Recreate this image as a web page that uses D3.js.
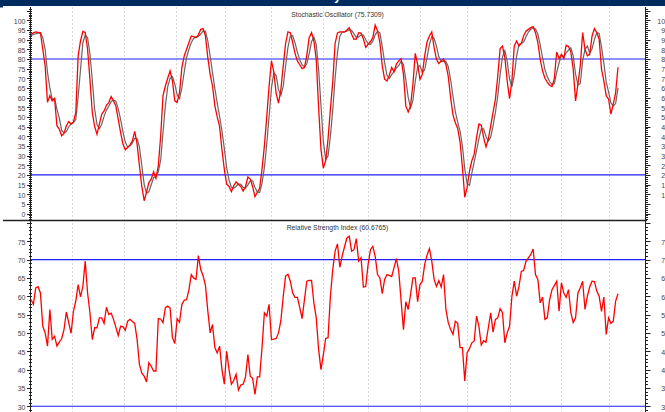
<!DOCTYPE html>
<html>
<head>
<meta charset="utf-8">
<script src="https://cdn.jsdelivr.net/npm/d3@7"></script>
<style>
  body { margin: 0; background: #fff; }
  svg { display: block; }
  text { font-family: "Liberation Sans", Arial, sans-serif; }
</style>
</head>
<body>
<svg id="chart" width="665" height="412"></svg>
<script>

// Stochastic %K, one value per trading day
var stochK = [92.8,93.5,94,93.8,93.6,85,76.4,57.6,61,58.3,
              59.5,45.4,43.7,40.2,41.5,45.4,47.6,46.3,47.4,52.3,
              81.6,89.3,94.2,93.7,85,69.5,52.3,45,41,46.3,
              51.4,53.1,56,57.4,60.5,58.3,55.6,48.8,42,36,
              33,34.2,35.5,37.6,42.5,36,24.7,14,6.6,11,
              16,17.8,21.6,18.2,24.7,40,61,66,70,73.8,
              68.6,58.3,57.5,62.6,75.6,81.6,85,88.5,91.9,91.5,
              91,92.5,95.3,95.7,91.9,80.7,72,66,55.7,50,
              45,33,23,15.2,14,11.3,14.4,16.4,15,14,
              11.6,14,18.9,17.8,14,8.7,11,13,23,35,
              50,66,79,73.3,62,57.1,64.3,76.4,88,94,
              93.6,88.5,82.9,79,77,75,75.6,82,91,93.6,
              89.3,79.8,55,33.3,23.5,27.3,38.5,54,68,88,
              93.5,94,94,94,95,96.2,92.8,90.2,90.3,93.6,
              93.4,90.3,86,87.6,89,91,97.5,94.5,88.5,76.4,
              69.5,68.6,71.6,75.6,73.3,77.3,79,80.2,72,55.7,
              52.6,55.7,66.9,82.9,77.3,69.5,72.1,81.6,88.8,91.9,
              94,85.9,79.8,77.6,79,80,77,71,60,51,
              47,44,37,24,8.4,13.5,22,27.3,30.7,39.4,
              46.3,45.7,39.4,34.5,38.5,45.4,52.3,59.2,71.2,85.4,
              86.7,80.7,68.6,59.5,68.6,86.7,89.3,86.7,88.1,92,
              94.5,95.3,96.2,96.7,93.6,88.5,79.8,73.8,70,68,
              66.4,65.7,69.9,83.6,80.2,82.4,80.2,87.1,86.4,83.6,
              74.7,58.3,66.9,76.4,93.6,85,81.6,82.4,91.9,95.7,
              93.6,90.2,74.7,68.6,61,59.2,51.4,56.6,62.6,75.73];

// Stochastic %D (grey signal line)
var stochD = [92,92.8,93,93.4,93.5,91,85,73,65,59,
              59.6,54,49.5,43,41.8,42.4,44.8,46.4,47.1,48.7,
              60.4,74.4,88.4,92.4,91,82.7,69,54,46,44,
              46.2,50.3,53.5,55.5,58,58.7,58.1,54.2,48.8,42.3,
              37,34.4,35,36.4,39,38.7,34.4,24.9,15.1,10.5,
              11.2,14.9,18.5,19.2,21.5,27.6,41.9,55.7,65.7,69.9,
              70.8,66.9,61.5,59.5,65.2,73.3,80.7,85,88.5,90.6,
              91.5,91.7,92.9,94.5,94.3,89.4,81.5,72.9,64.6,57.2,
              50.2,42.7,33.7,23.7,17.4,13.5,13.2,14,15.3,15.1,
              13.5,13.2,14.8,16.9,16.9,13.5,11.2,10.9,15.7,23.7,
              36,50.3,65,72.8,71.4,64.1,61.1,65.9,76.2,86.1,
              91.9,92,88.3,83.5,79.6,77,75.9,77.5,82.9,88.9,
              91.3,87.6,74.7,56,37.3,28,29.8,39.9,53.5,70,
              83.2,91.8,93.8,94,94.3,95.1,94.7,93.1,91.1,91.4,
              92.4,92.4,89.9,88,87.5,89.2,92.5,94.3,93.5,86.5,
              78.1,71.5,69.9,71.9,73.5,75.4,76.5,78.8,77.1,69.3,
              60.1,54.7,58.4,68.5,75.7,76.6,73,74.4,80.8,87.4,
              91.6,90.6,86.6,81.1,78.8,78.9,78.7,76,69.3,60.7,
              52.7,47.3,42.7,35,23.1,15.3,14.6,20.9,26.7,32.5,
              38.8,43.8,43.8,39.9,37.5,39.5,45.4,52.3,60.9,71.9,
              81.1,84.3,78.7,69.6,65.6,71.6,81.5,87.6,88,88.9,
              91.5,93.9,95.3,96.1,95.5,92.9,87.3,80.7,74.5,70.8,
              68.3,66.7,67.3,73.1,77.9,82.1,80.9,83.2,84.6,85.7,
              81.6,72.2,66.6,67.2,79,85,86.7,83.1,85.3,90,
              93.7,93.2,86.2,77.8,68.1,62.9,57.2,55.7,56.9,65];

// Relative Strength Index
var rsi = [59.1,57.8,62.3,62.6,60.9,51.8,50,46.4,56.4,48.2,
           49.1,46.4,47.5,48.4,50.9,55.7,52.8,49.9,55.9,58.7,
           63.2,59.8,62.7,69.6,60.9,55.5,48.2,51.4,51.4,54.1,
           54.1,52.6,57,55,55.4,53.7,51.5,49.3,51.8,51.7,
           50.7,53.2,53.7,53.1,52.6,48.2,41.4,39,38.2,36.6,
           41.9,40.9,39.6,39.6,53.9,53.8,52.8,56.9,57.3,56.8,
           48.7,47.1,53.9,52.9,57.8,58.9,59.1,61.8,65.9,65,
           64.6,71.1,67.3,65.6,63,56,50,52.3,46,44.5,
           46.4,40,36,45,40,36,37,38.7,34.4,35.8,
           36,38,44.1,38.2,37.6,33.2,38,38,46,55.5,
           54.6,57.8,48.2,48.3,48.5,50,53.4,60,65.5,66,
           64.1,60.9,59.7,59.7,56.9,53.9,59.1,64.1,64.3,64.3,
           58.2,54.1,45.5,40,44,48.5,48.7,60,67.3,72.3,
           74.3,67.9,71,73.5,75.9,76.4,72.3,72.7,75.7,69.6,
           70.5,62.5,62.7,68.7,72.7,73.6,70.9,65.9,65,60.7,
           64.6,65.9,65.7,65.4,67.8,70.3,66.8,58.7,50.9,58.5,
           56.4,60.5,65,65,58.5,63.2,64.1,68.7,71.2,73,
           69.6,64.6,62.7,64.3,62.5,65.9,56.4,52.8,50.9,49.6,
           53.2,52.6,46,46,36.9,44.6,45.7,47.3,47.8,54.6,
           51.8,46.7,47.9,47.5,51.4,55.5,50.2,53.7,54.1,56.6,
           55.5,47.3,50,51.8,60,64.1,60,62.7,66.8,67.1,
           69.6,70.5,71.4,72.9,65.9,64.6,58.2,59.8,53.7,54.1,
           59.1,61.8,62.9,64.1,55.9,63.7,60.9,59.7,61.8,55.5,
           52.8,54.1,60.9,62.3,64.1,56.4,60,62.6,64.1,64,
           61.4,60,55.9,59.8,49.6,54.1,52.6,53.2,58.7,60.68];

// Day index where each new month starts (vertical grid)
var monthStarts = [17.5, 39.5, 61.5, 82.5, 102, 124, 143, 165, 185, 203, 225, 245];

// Axis labels and signal levels
var stochTicks = [0, 5, 10, 15, 20, 25, 30, 35, 40, 45, 50,
                  55, 60, 65, 70, 75, 80, 85, 90, 95, 100];
var rsiTicks = [30, 35, 40, 45, 50, 55, 60, 65, 70, 75];
var stochLevels = [20, 80];
var rsiLevels = [30, 70];
var stochTitle = 'Stochastic Oscillator (75.7309)';
var rsiTitle = 'Relative Strength Index (60.6765)';
var bannerText = 'Daily';

// Layout
var axisLeft = 30.5,
    axisRight = 645.5,
    splitY = 220.5,
    topY = 7;

var svg = d3.select('#chart');

var x = d3.scaleLinear()
    .domain([0, stochK.length - 1])
    .range([31, 618]);

var yStoch = d3.scaleLinear()
    .domain([0, 100])
    .range([213.5, 20.3]);

var yRsi = d3.scaleLinear()
    .domain([30, 70])
    .range([406.2, 259.6]);

// Banner at the top (its title sits above the visible area)
svg.append('rect')
   .attr('x', 0).attr('y', 0)
   .attr('width', 665).attr('height', 6)
   .attr('fill', '#002b5e');
svg.append('rect')
   .attr('x', 0).attr('y', 0)
   .attr('width', 3).attr('height', 7.5)
   .attr('fill', '#002b5e');
svg.append('text')
   .attr('x', 341).attr('y', -0.5)
   .attr('text-anchor', 'end')
   .attr('fill', '#fff')
   .style('font-size', '12px')
   .style('font-weight', 'bold')
   .text(bannerText);

// Month grid
svg.append('g')
   .selectAll('line')
   .data(monthStarts)
   .enter()
   .append('line')
   .attr('x1', function(d) { return Math.round(x(d)) + 0.5; })
   .attr('x2', function(d) { return Math.round(x(d)) + 0.5; })
   .attr('y1', topY)
   .attr('y2', 412)
   .attr('stroke', '#d9d9d9')
   .attr('stroke-dasharray', '2,2');

// Draw one panel: levels, axes, title
function drawPanel(y, ticks, levels, title, titleY, lo, hi, y0, y1) {

  var g = svg.append('g');

  // Signal levels
  g.selectAll('line.level')
   .data(levels)
   .enter()
   .append('line')
   .attr('class', 'level')
   .attr('x1', axisLeft).attr('x2', axisRight)
   .attr('y1', function(d) { return y(d); })
   .attr('y2', function(d) { return y(d); })
   .attr('stroke', '#1f1fff')
   .attr('stroke-width', 1.1);

  // Axis lines
  [axisLeft, axisRight].forEach(function(ax) {
    g.append('line')
     .attr('x1', ax).attr('x2', ax)
     .attr('y1', y0).attr('y2', y1)
     .attr('stroke', '#222');
  });

  // Minor ticks every unit, major every 5
  var minor = d3.range(Math.ceil(lo), Math.floor(hi) + 1);
  minor.forEach(function(v) {
    var yy = Math.round(y(v)) + 0.5;
    var major = v % 5 == 0;
    g.append('line')
     .attr('x1', axisLeft - (major ? 3.5 : 1.5)).attr('x2', axisLeft + 1.5)
     .attr('y1', yy).attr('y2', yy)
     .attr('stroke', '#222');
    g.append('line')
     .attr('x1', axisRight).attr('x2', axisRight + (major ? 5 : 2.5))
     .attr('y1', yy).attr('y2', yy)
     .attr('stroke', '#222');
  });

  // Tick labels both sides (right ones run past the window edge)
  g.selectAll('text.left')
   .data(ticks)
   .enter()
   .append('text')
   .attr('class', 'left')
   .attr('x', 25.5)
   .attr('y', function(d) { return y(d); })
   .attr('dy', '0.5em')
   .attr('text-anchor', 'end')
   .attr('fill', '#444')
   .style('font-size', '7px')
   .text(function(d) { return d; });
  g.selectAll('text.right')
   .data(ticks)
   .enter()
   .append('text')
   .attr('class', 'right')
   .attr('x', 669)
   .attr('y', function(d) { return y(d); })
   .attr('dy', '0.5em')
   .attr('text-anchor', 'end')
   .attr('fill', '#444')
   .style('font-size', '7px')
   .text(function(d) { return d; });

  // Panel title
  g.append('text')
   .attr('x', 337.5)
   .attr('y', titleY)
   .attr('text-anchor', 'middle')
   .attr('fill', '#333')
   .style('font-size', '6.8px')
   .text(title);
}

drawPanel(yStoch, stochTicks, stochLevels, stochTitle, 16.5,
          yStoch.invert(splitY), yStoch.invert(topY), topY, splitY);
drawPanel(yRsi, rsiTicks, rsiLevels, rsiTitle, 229.5,
          yRsi.invert(412), yRsi.invert(splitY), splitY, 412);

// Separator between panels
svg.append('line')
   .attr('x1', 3).attr('x2', 647)
   .attr('y1', splitY).attr('y2', splitY)
   .attr('stroke', '#222')
   .attr('stroke-width', 1.3);

// Series lines
var stochLine = d3.line()
    .x(function(d, i) { return x(i); })
    .y(function(d) { return yStoch(d); });
var rsiLine = d3.line()
    .x(function(d, i) { return x(i); })
    .y(function(d) { return yRsi(d); });

svg.append('path')
   .datum(stochD)
   .attr('d', stochLine)
   .attr('fill', 'none')
   .attr('stroke', '#666')
   .attr('stroke-width', 1.2);
svg.append('path')
   .datum(stochK)
   .attr('d', stochLine)
   .attr('fill', 'none')
   .attr('stroke', '#ff0000')
   .attr('stroke-width', 1.3);
svg.append('path')
   .datum(rsi)
   .attr('d', rsiLine)
   .attr('fill', 'none')
   .attr('stroke', '#ff0000')
   .attr('stroke-width', 1.3);

</script>
</body>
</html>
